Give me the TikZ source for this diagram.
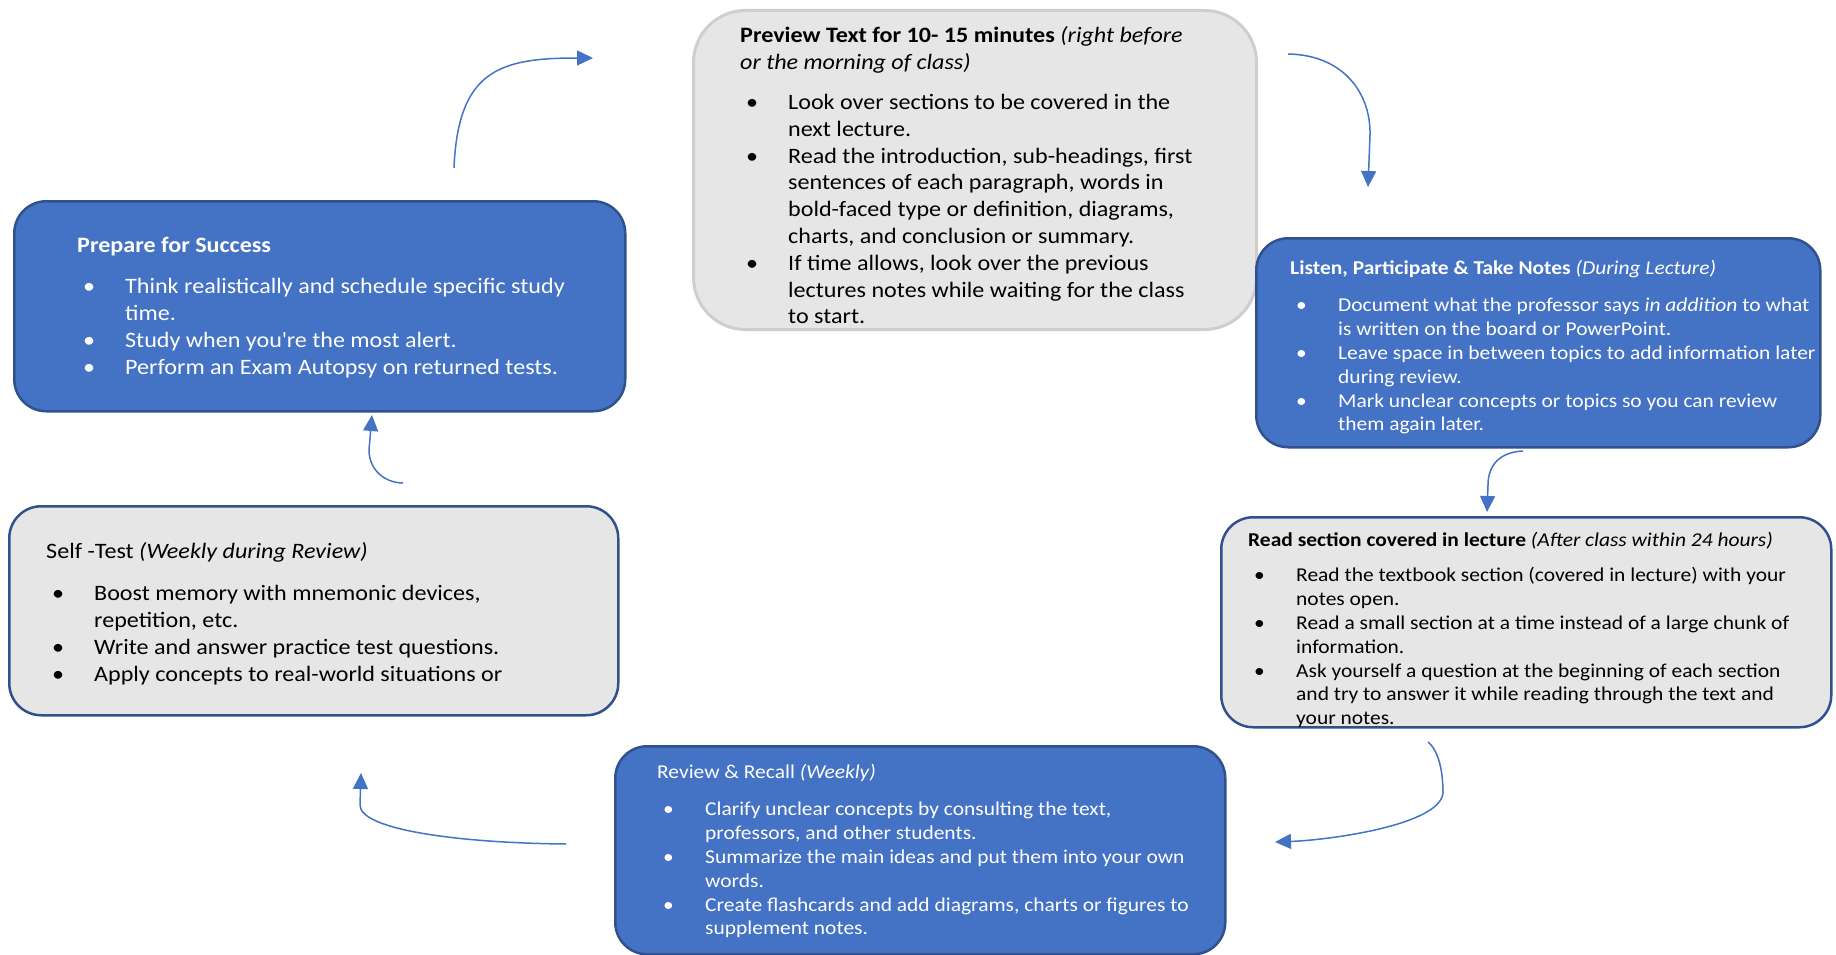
\documentclass[tikz,border=0pt]{standalone}
\usepackage{fontspec}
\setmainfont{Carlito}[FakeStretch=1.095]
\usetikzlibrary{arrows.meta}
\definecolor{accblue}{HTML}{4472C4}
\definecolor{edgeblue}{HTML}{2F528F}
\definecolor{boxgray}{HTML}{E7E6E6}
\definecolor{rimgray}{HTML}{CFCDCD}
\def\bul#1{\par\hangindent=48pt\hangafter=1\noindent\makebox[48pt][l]{\hspace{6pt}\textbullet}#1}
\def\bigtxt{\fontsize{22}{26.8}\selectfont\raggedright}
\def\smalltxt{\fontsize{19.6}{23.8}\selectfont\raggedright}

\begin{document}
\begin{tikzpicture}[x=1pt, y=-1pt,
		bluebox/.style={draw=edgeblue, fill=accblue, line width=2.5pt, rounded corners=32pt, anchor=north west, inner sep=0pt},
		graybox/.style={draw=edgeblue, fill=boxgray, line width=2.5pt, rounded corners=32pt, anchor=north west, inner sep=0pt},
		txt/.style={anchor=base west, inner sep=0pt},
		flow/.style={line width=1.5pt, color=accblue, -{Triangle[length=16pt, width=15pt]}}]
		%%%%% START %%%%%
		
		\useasboundingbox (0, 0) rectangle (1836, 955);
		
		\node[graybox, draw=rimgray, line width=3pt, rounded corners=52pt, minimum width=563pt, minimum height=319pt] (preview) at (692, 9) {};
		\node[txt] (preview-t) at ([shift={(48,34)}]preview.north west) {\parbox[t]{600pt}{\bigtxt
			\textbf{Preview Text for 10- 15 minutes} \textit{(right before\newline or the morning of class)}\par\vspace{13pt}
			\bul{Look over sections to be covered in the\newline next lecture.}
			\bul{Read the introduction, sub-headings, first\newline sentences of each paragraph, words in\newline bold-faced type or definition, diagrams,\newline charts, and conclusion or summary.}
			\bul{If time allows, look over the previous\newline lectures notes while waiting for the class\newline to start.}}};
		
		\node[bluebox, minimum width=564pt, minimum height=209pt] (listen) at (1255, 237) {};
		\node[txt, text=white] (listen-t) at ([shift={(35,37)}]listen.north west) {\parbox[t]{600pt}{\smalltxt
			\textbf{Listen, Participate \& Take Notes} \textit{(During Lecture)}\par\vspace{14pt}
			\bul{Document what the professor says \textit{in addition} to what\newline is written on the board or PowerPoint.}
			\bul{Leave space in between topics to add information later\newline during review.}
			\bul{Mark unclear concepts or topics so you can review\newline them again later.}}};
		
		\node[graybox, minimum width=610pt, minimum height=210pt] (reread) at (1220, 516) {};
		\node[txt] (reread-t) at ([shift={(28,30)}]reread.north west) {\parbox[t]{600pt}{\smalltxt
			\textbf{Read section covered in lecture} \textit{(After class within 24 hours)}\par\vspace{12pt}
			\bul{Read the textbook section (covered in lecture) with your\newline notes open.}
			\bul{Read a small section at a time instead of a large chunk of\newline information.}
			\bul{Ask yourself a question at the beginning of each section\newline and try to answer it while reading through the text and\newline your notes.}}};
		
		\node[bluebox, minimum width=610pt, minimum height=208pt] (review) at (614, 745) {};
		\node[txt, text=white] (review-t) at ([shift={(43,33)}]review.north west) {\parbox[t]{600pt}{\smalltxt
			Review \& Recall \textit{(Weekly)}\par\vspace{14pt}
			\bul{Clarify unclear concepts by consulting the text,\newline professors, and other students.}
			\bul{Summarize the main ideas and put them into your own\newline words.}
			\bul{Create flashcards and add diagrams, charts or figures to\newline supplement notes.}}};
		
		\node[graybox, minimum width=609pt, minimum height=209pt] (selftest) at (8, 505) {};
		\node[txt] (selftest-t) at ([shift={(38,53)}]selftest.north west) {\parbox[t]{600pt}{\bigtxt
			Self -Test \textit{(Weekly during Review)}\par\vspace{16pt}
			\bul{Boost memory with mnemonic devices,\newline repetition, etc.}
			\bul{Write and answer practice test questions.}
			\bul{Apply concepts to real-world situations or}}};
		
		\node[bluebox, minimum width=611pt, minimum height=210pt] (prep) at (13, 200) {};
		\node[txt, text=white] (prep-t) at ([shift={(64,52)}]prep.north west) {\parbox[t]{600pt}{\bigtxt
			\textbf{Prepare for Success}\par\vspace{15pt}
			\bul{Think realistically and schedule specific study\newline time.}
			\bul{Study when you\textquotesingle re the most alert.}
			\bul{Perform an Exam Autopsy on returned tests.}}};
		
		% loose arrow ends
		\coordinate (prep-out) at (454, 168);
		\coordinate (preview-in) at (593, 58);
		\coordinate (preview-out) at (1288, 54);
		\coordinate (listen-in) at (1368, 187);
		\coordinate (listen-out) at (1523, 451);
		\coordinate (reread-in) at (1487, 512);
		\coordinate (reread-out) at (1428, 742);
		\coordinate (review-in) at (1275, 842);
		\coordinate (review-out) at (566, 844);
		\coordinate (selftest-in) at (361, 773);
		\coordinate (selftest-out) at (403, 483);
		\coordinate (prep-in) at (372, 415);
		
		\draw[flow] (prep-out) .. controls (458, 70) and (500, 58) .. (preview-in);
		\draw[flow] (preview-out) .. controls (1345, 55) and (1371, 95) .. (1370, 135) -- (listen-in);
		\draw[flow] (listen-out) .. controls (1500, 452) and (1488, 465) .. (1488, 485) -- (reread-in);
		\draw[flow] (reread-out) .. controls (1440, 752) and (1443, 775) .. (1443, 793) .. controls (1440, 825) and (1330, 840) .. (review-in);
		\draw[flow] (review-out) .. controls (460, 843) and (360, 830) .. (360, 805) -- (selftest-in);
		\draw[flow] (selftest-out) .. controls (385, 483) and (369, 470) .. (369, 450) -- (prep-in);
		
		%%%%% END %%%%%
	\end{tikzpicture}
\end{document}
